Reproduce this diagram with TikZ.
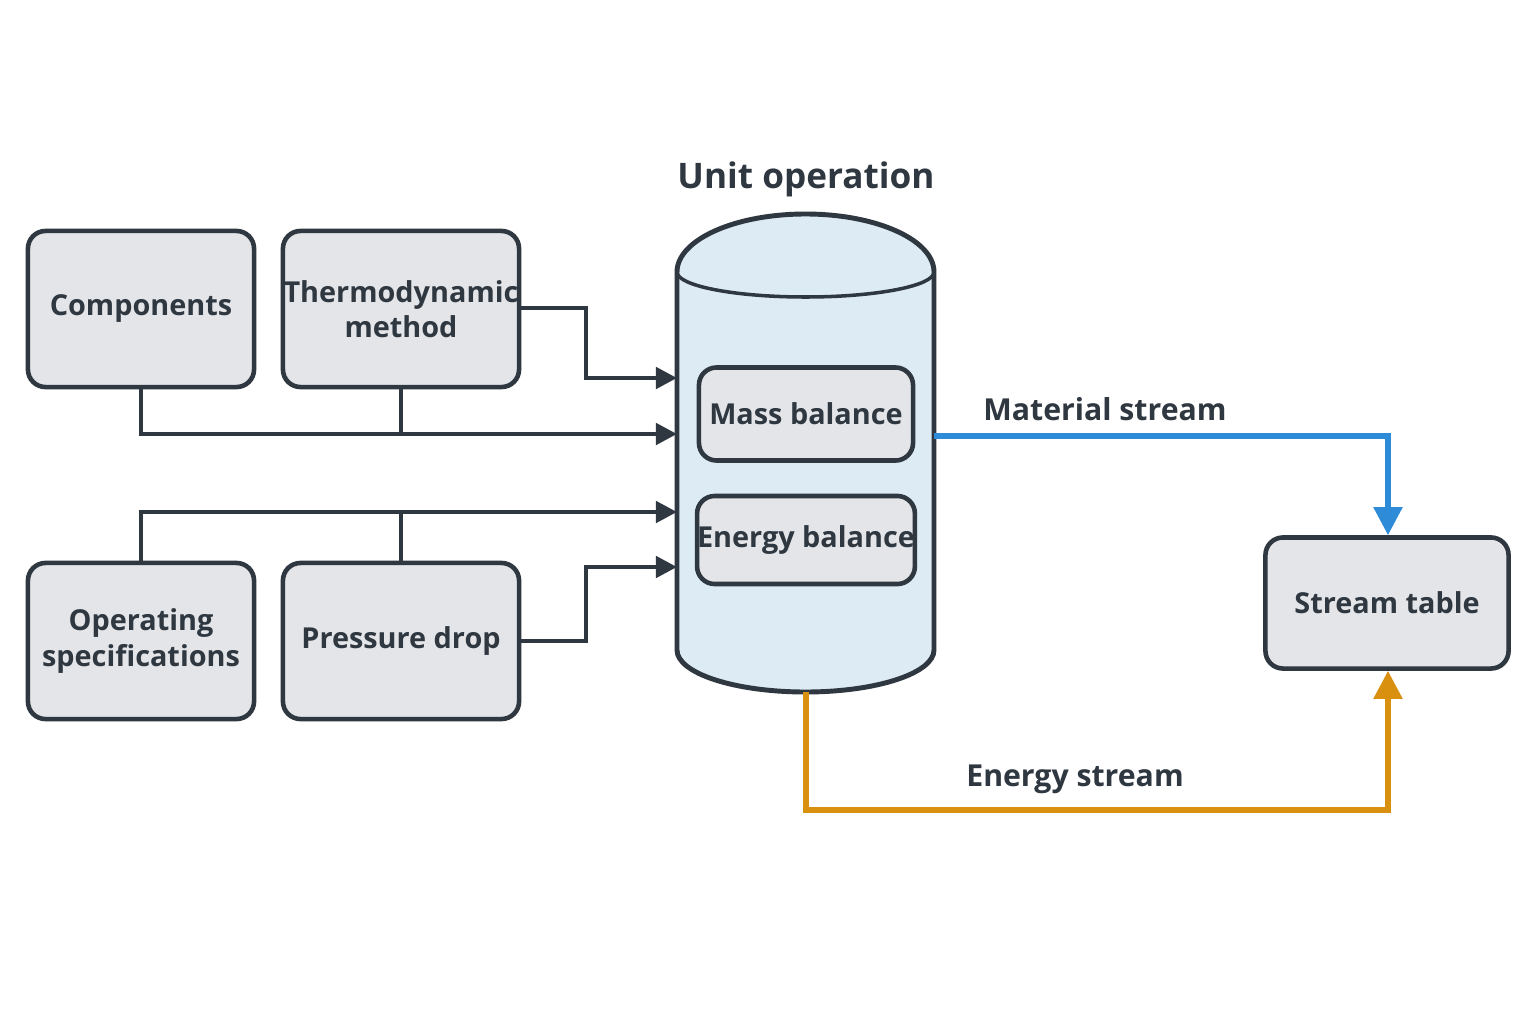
\documentclass[tikz,border=0pt]{standalone}
\usepackage{fontspec}
\setmainfont{Open Sans}
\usetikzlibrary{arrows.meta}
\definecolor{boxfill}{HTML}{E3E5E8}
\definecolor{edge}{HTML}{2F3740}
\definecolor{cylfill}{HTML}{DDEBF5}
\definecolor{bluec}{HTML}{2E8BD8}
\definecolor{orangec}{HTML}{D9900F}
\tikzset{
  pbox/.style={draw=edge,fill=boxfill,line width=1.3pt,rounded corners=5pt,align=center,font=\bfseries\fontsize{8.2}{10}\selectfont,text=edge,inner sep=0pt},
  conn/.style={draw=edge,line width=1.3pt,-{Triangle[length=6pt,width=6pt]}},
  lab/.style={font=\bfseries\fontsize{8.6}{11}\selectfont,text=edge}
}
\begin{document}
\begin{tikzpicture}[x=0.01cm,y=-0.01cm]
\useasboundingbox (0,0) rectangle (1536,1024);
\fill[white] (0,0) rectangle (1536,1024);
% cylinder
\draw[edge,line width=1.4pt,fill=cylfill] (677,272) -- (677,650) arc[start angle=180,end angle=0,x radius=128.5,y radius=42] -- (934,272) arc[start angle=0,end angle=-180,x radius=128.5,y radius=58] -- cycle;
\draw[edge,line width=1pt] (677,272) arc[start angle=180,end angle=0,x radius=128.5,y radius=25];
\node[lab,font=\bfseries\fontsize{10}{12}\selectfont] (title) at (806,179) {Unit operation};
\node[pbox,minimum width=2.14cm,minimum height=0.93cm] (mass) at (806,414) {Mass balance};
\node[pbox,minimum width=2.14cm,minimum height=0.88cm] (energy) at (806,540) {Energy balance};
\node[pbox,minimum width=2.26cm,minimum height=1.56cm] (comp) at (141,309) {Components};
\node[pbox,minimum width=2.36cm,minimum height=1.56cm] (thermo) at (401,309) {Thermodynamic\\method};
\node[pbox,minimum width=2.26cm,minimum height=1.56cm] (oper) at (141,641) {Operating\\specifications};
\node[pbox,minimum width=2.36cm,minimum height=1.56cm] (press) at (401,641) {Pressure drop};
\node[pbox,minimum width=2.43cm,minimum height=1.31cm] (table) at (1387,603) {Stream table};
\coordinate (a1) at (677,378);
\coordinate (a2) at (677,434);
\coordinate (a3) at (677,512);
\coordinate (a4) at (677,567);
\draw[conn] (thermo.east |- 0,308) -- (586,308) -- (586,378) -- (a1);
\draw[conn] (comp.south) -- (141,434) -- (a2);
\draw[draw=edge,line width=1.3pt] (thermo.south) -- (401,434);
\draw[conn] (oper.north) -- (141,512) -- (a3);
\draw[draw=edge,line width=1.3pt] (press.north) -- (401,512);
\draw[conn] (press.east) -- (586,641) -- (586,567) -- (a4);
\coordinate (ms) at (934,436);
\coordinate (es) at (806,692);
\draw[bluec,line width=1.5pt,-{Triangle[length=8pt,width=8pt]}] (ms) -- (1388,436) -- (table.north -| 1388,0);
\draw[orangec,line width=1.5pt,-{Triangle[length=8pt,width=8pt]}] (es) -- (806,810) -- (1388,810) -- (table.south -| 1388,0);
\node[lab] (mlab) at (1105,409) {Material stream};
\node[lab] (elab) at (1075,779) {Energy stream};
\end{tikzpicture}
\end{document}
